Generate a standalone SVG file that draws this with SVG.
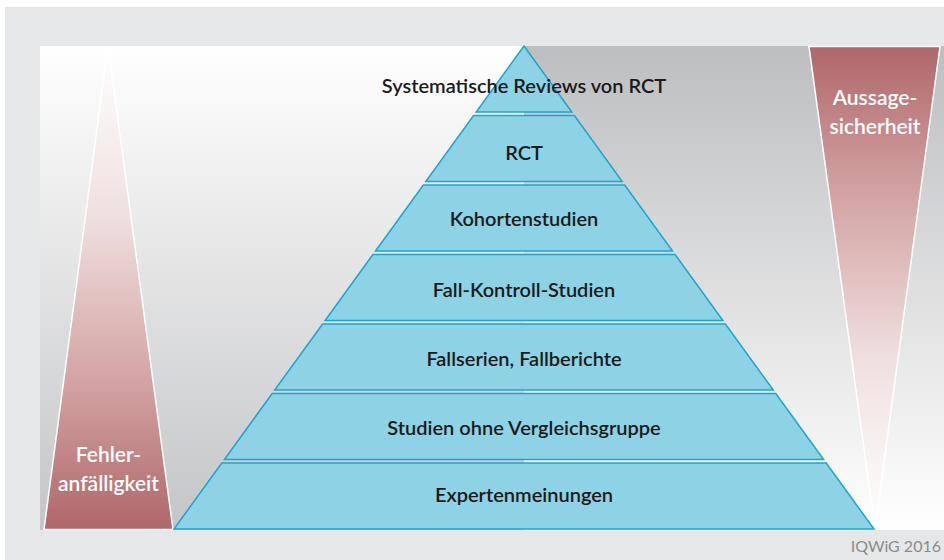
<svg xmlns="http://www.w3.org/2000/svg" width="944" height="560" viewBox="0 0 944 560">
  <defs>
    <linearGradient id="bgLeft" x1="0" y1="0" x2="0" y2="1">
      <stop offset="0" stop-color="#ffffff"/>
      <stop offset="1" stop-color="#c4c5c7"/>
    </linearGradient>
    <linearGradient id="bgRight" x1="0" y1="0" x2="0" y2="1">
      <stop offset="0" stop-color="#bdbec0"/>
      <stop offset="1" stop-color="#ffffff"/>
    </linearGradient>
    <linearGradient id="triUp" x1="0" y1="0" x2="0" y2="1">
      <stop offset="0" stop-color="#ffffff"/>
      <stop offset="0.35" stop-color="#f0e0e0"/>
      <stop offset="0.7" stop-color="#d3a2a2"/>
      <stop offset="1" stop-color="#af676a"/>
    </linearGradient>
    <linearGradient id="triDown" x1="0" y1="0" x2="0" y2="1">
      <stop offset="0" stop-color="#af676a"/>
      <stop offset="0.3" stop-color="#d3a2a2"/>
      <stop offset="0.65" stop-color="#f0e0e0"/>
      <stop offset="1" stop-color="#ffffff"/>
    </linearGradient>
    <style>
      .tier { fill: #8dd2e5; stroke: #1ba6cf; stroke-width: 1.5; stroke-linejoin: miter; }
      .side { stroke: #ffffff; stroke-width: 1.5; }
      .lbl { font-family: Lato, "Liberation Sans", sans-serif; font-weight: 600; font-size: 20px; fill: #1a1a1a; text-anchor: middle; }
      .slbl { font-family: Lato, "Liberation Sans", sans-serif; font-weight: 600; font-size: 21px; fill: #ffffff; text-anchor: middle; }
      .credit { font-family: Lato, "Liberation Sans", sans-serif; font-size: 16px; fill: #8c8c8c; text-anchor: end; }
    </style>
  </defs>

  <rect x="0" y="0" width="944" height="560" fill="#ffffff"/>
  <rect x="5" y="7" width="939" height="553" fill="#e6e7e8"/>
  <rect x="40" y="46" width="484" height="484" fill="url(#bgLeft)"/>
  <rect x="524" y="46" width="420" height="484" fill="url(#bgRight)"/>

  <g id="fehleranfaelligkeit">
    <polygon class="side" points="108,46 173,529.5 44,529.5" fill="url(#triUp)"/>
    <text class="slbl" x="108.5" y="462">Fehler-</text>
    <text class="slbl" x="108.5" y="491">anfälligkeit</text>
  </g>

  <g id="aussagesicherheit">
    <polygon class="side" points="809,46.5 940,46.5 875,529" fill="url(#triDown)"/>
    <text class="slbl" x="875" y="105">Aussage-</text>
    <text class="slbl" x="875" y="134">sicherheit</text>
  </g>

  <g id="tier1">
    <polygon class="tier" points="524,46 571.8,112 476.2,112"/>
    <text class="lbl" x="524" y="93">Systematische Reviews von RCT</text>
  </g>
  <g id="tier2">
    <polygon class="tier" points="473.6,115.5 574.4,115.5 622.2,181.5 425.8,181.5"/>
    <text class="lbl" x="524" y="160">RCT</text>
  </g>
  <g id="tier3">
    <polygon class="tier" points="423.3,185 624.7,185 672.5,251 375.5,251"/>
    <text class="lbl" x="524" y="226">Kohortenstudien</text>
  </g>
  <g id="tier4">
    <polygon class="tier" points="372.9,254.5 675.1,254.5 722.9,320.5 325.1,320.5"/>
    <text class="lbl" x="524" y="297">Fall-Kontroll-Studien</text>
  </g>
  <g id="tier5">
    <polygon class="tier" points="322.6,324 725.4,324 773.3,390 274.7,390"/>
    <text class="lbl" x="524" y="366">Fallserien, Fallberichte</text>
  </g>
  <g id="tier6">
    <polygon class="tier" points="272.2,393.5 775.8,393.5 823.6,459.5 224.4,459.5"/>
    <text class="lbl" x="524" y="435">Studien ohne Vergleichsgruppe</text>
  </g>
  <g id="tier7">
    <polygon class="tier" points="221.8,463 826.2,463 874,529 174,529"/>
    <text class="lbl" x="524" y="502">Expertenmeinungen</text>
  </g>

  <g id="connectors"></g>

  <text class="credit" x="941" y="552">IQWiG 2016</text>
</svg>
